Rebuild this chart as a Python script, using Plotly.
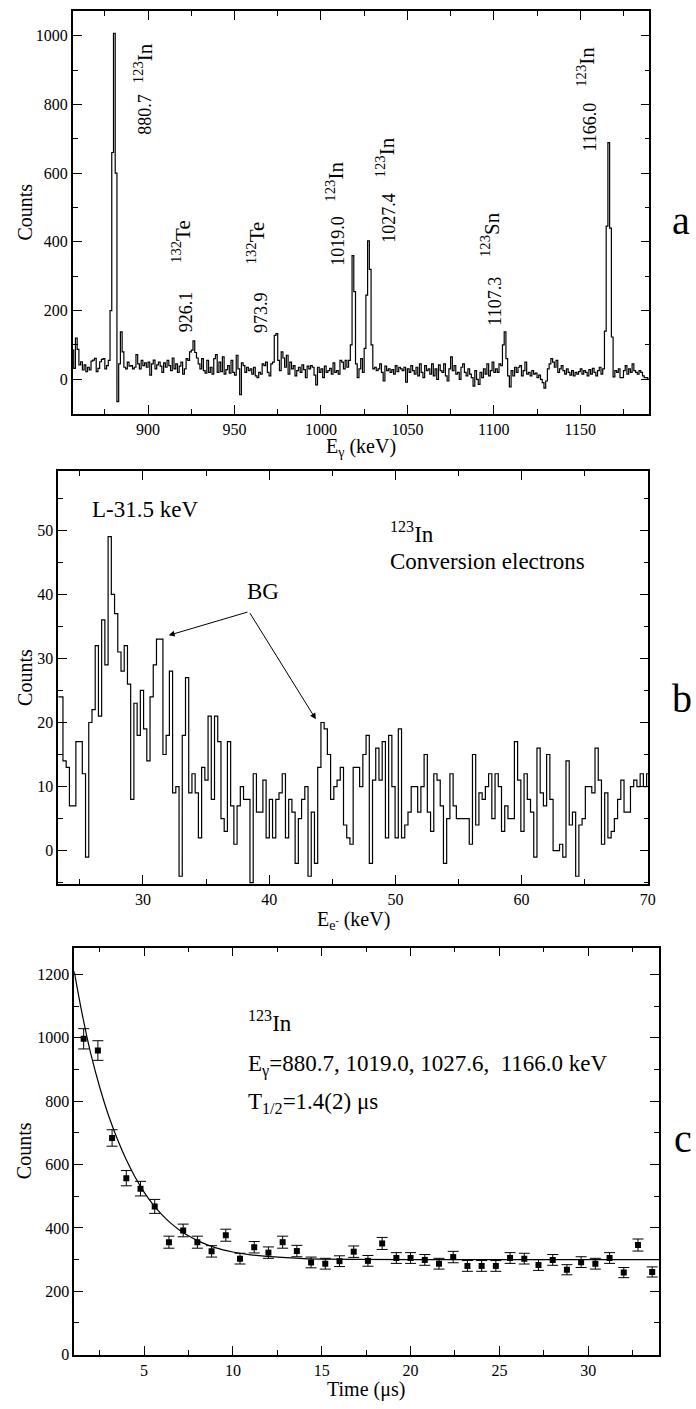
import numpy as np
import plotly.graph_objects as go

W, H = 696, 1409
FONT = "Liberation Serif, Times New Roman, Times, serif"

# ---------------- Panel a: gamma spectrum, 1 keV channels from 856 keV ----------------
e_start_a = 856
counts_a = [
    # 856-877
    85, 32, 120, 87, 42, 51, 27, 42, 22, 35, 27, 53, 56, 61, 22, 32, 51, 58, 60, 30, 40, 55,
    # 878-887
    200, 660, 1007, 600, -65, 45, 138, 80, 35, 30,
    # 888-925
    50, 38, 40, 30, 35, 72, 45, 30, 55, 40, 48, 35, 50, 12, 45, 56, 30, 42, 50, 38,
    20, 48, 35, 55, 40, 25, 62, 30, 45, 20, 38, 50, 15, 30, 60, 55, 80, 85,
    # 926-968
    112, 78, 62, 45, 30, 60, 25, 18, 55, 20, 35, 15, 60, 72, 20, 50, 22, 65, 15, 28,
    40, 18, 55, 20, 12, 70, 30, -45, 48, 40, 20, 35, 25, 30, 15, 35, 10, 5, 20, 15,
    45, 40, 50,
    # 969-1014
    20, 10, 45, 50, 128, 133, 55, 25, 80, 62, 35, 70, 15, 50, 30, 40, 10, 25, 35, 20,
    42, 28, 5, 38, 30, 40, 35, 12, -16, 35, 20, 30, 5, 38, 20, 25, 32, 15, 48, 20,
    25, 15, 55, 50, 30, 55,
    # 1015-1030
    35, 55, 100, 360, 255, 45, 5, 30, 60, 20, 90, 245, 403, 320, 100, 30,
    # 1031-1100
    35, 25, 30, 45, 20, -5, 38, 25, 30, 20, 28, 15, 40, 22, 35, 30, 25, 35, -8, 30,
    20, 40, 25, 15, 35, 10, 45, 20, 5, 40, 25, 30, 15, 45, 10, 30, 0, 42, 25, 20,
    45, 10, -5, 30, 65, 25, 40, 15, 20, 0, 35, 45, 20, 10, 30, 15, 5, -20, 25, 0,
    -15, 20, 5, 30, 15, 45, 10, 25, 50, 20,
    # 1101-1112
    30, 20, 45, 40, 100, 138, 60, 10, -22, 25, 10, 35,
    # 1113-1163
    20, 35, 40, 10, 25, 50, 15, 20, 10, 25, 15, 18, 5, 12, 0, -10, -26, -5, 30, 45,
    60, 50, 35, 55, 20, 30, 40, 25, 15, 30, 20, 12, 25, 10, 20, 15, 22, 30, 15, 25,
    20, 10, 28, 15, 32, 20, 10, 25, 35, 15, 30,
    # 1164-1169
    140, 446, 689, 440, 123, 7,
    # 1170-1189
    25, 20, 30, 5, 5, 25, 40, 15, 30, 20, 45, 25, 20, 15, 25, 20, 10, 5, 5, 0,
]
peak_energies_a = ["880.7", "926.1", "973.9", "1019.0", "1027.4", "1107.3", "1166.0"]
peak_isotopes_a = ["<sup>123</sup>In", "<sup>132</sup>Te", "<sup>132</sup>Te", "<sup>123</sup>In",
                   "<sup>123</sup>In", "<sup>123</sup>Sn", "<sup>123</sup>In"]
# label placement (keV, counts) for energy text and isotope text
peak_num_pos = [(898.5, 771), (921.7, 197), (965.0, 194), (1009.9, 403), (1039.4, 470), (1100.7, 226), (1155.7, 733)]
peak_iso_pos = [(897.5, 919), (919.7, 400), (962.7, 397), (1007.9, 574), (1037.1, 646), (1098.4, 420), (1153.4, 910)]

# ---------------- Panel b: conversion electron spectrum ----------------
e_start_b = 23.15
bin_w_b = 0.2555
counts_b = [
    24, 24, 14, 13, 7, 7, 17, 17, 12, -1, 20, 22, 32, 21, 36, 29, 49, 40, 37, 31,
    28, 32, 26, 8, 23, 18, 25, 19, 14, 24, 29, 33, 33, 15, 18, 28, 9, 10, -4, 18,
    27, 9, 12, 9, 2, 13, 11, 21, 8, 21, 17, 5, 3, 17, 7, 1, 7, 10, 8, 8, -5, 12,
    6, 6, 11, 2, 8, 2, 8, 9, 12, 2, 8, 6, -2, 5, 8, 10, -4, 6, -2, 13,
    20, 19, 15, 8, 10, 11, 13, 4, 2, 1, 13, 13, 10, 15, 18, -2, 11, 16, 11, 17,
    2, 18, 10, 2, 19, 2, 4, 6, 10, 10, 6, 10, 15, 6, 3, 12, 11, 7, -2, 5, 12, 7, 5,
    5, 5, 5, 1, 15, 4, 9, 8, 10, 12, 5, 12, 10, 3, 7, 5, 5, 17, 11, 3,
    12, 8, 6, -1, 16, 9, 7, 15, 8, 0, 0, 1, -1, 14, 4, 6, -4, 4, 5, 10,
    10, 9, 16, 11, 1, 9, 2, 3, 5, 8, 11, 6, 6, 10, 11, 10, 12, 10, 12,
]

# ---------------- Panel c: time distribution ----------------
time_c = [1.6, 2.4, 3.2, 4.0, 4.8, 5.6, 6.4, 7.2, 8.0, 8.8, 9.6, 10.4, 11.2, 12.0, 12.8,
          13.6, 14.4, 15.2, 16.0, 16.8, 17.6, 18.4, 19.2, 20.0, 20.8, 21.6, 22.4, 23.2,
          24.0, 24.8, 25.6, 26.4, 27.2, 28.0, 28.8, 29.6, 30.4, 31.2, 32.0, 32.8, 33.6]
counts_c = [997, 960, 684, 557, 524, 468, 355, 392, 355, 326, 377, 303, 339, 322, 355,
            327, 291, 287, 295, 325, 296, 351, 305, 305, 299, 287, 308, 280, 280, 280,
            305, 303, 283, 299, 268, 292, 287, 305, 259, 346, 261]
errors_c = [32, 31, 26, 24, 23, 22, 19, 20, 19, 18, 19, 17, 18, 18, 19, 18, 17, 17, 17, 18,
            17, 19, 17, 17, 17, 17, 18, 17, 17, 17, 17, 17, 17, 17, 16, 17, 17, 17, 16, 19, 16]
fit_t = [1.07, 1.5, 2.0, 2.5, 3.0, 3.5, 4.0, 4.5, 5.0, 5.5, 6.0, 6.5, 7.0, 7.5, 8.0, 9.0,
         10.0, 11.0, 12.0, 13.0, 14.0, 15.0, 17.0, 20.0, 25.0, 34.0]
fit_y = [1210, 1080, 950, 845, 755, 680, 615, 560, 513, 474, 442, 415, 393, 375, 360, 338,
         324, 315, 310, 306, 303, 301.5, 300.5, 300, 300, 300]

# ---------------- figure ----------------
fig = go.Figure()

edges_a = e_start_a + np.arange(len(counts_a) + 1)
fig.add_trace(go.Scatter(x=edges_a, y=counts_a + [counts_a[-1]], mode="lines",
                         line=dict(shape="hv", color="black", width=1.2),
                         xaxis="x", yaxis="y", showlegend=False, hoverinfo="skip"))

edges_b = e_start_b + bin_w_b * np.arange(len(counts_b) + 1)
fig.add_trace(go.Scatter(x=edges_b, y=counts_b + [counts_b[-1]], mode="lines",
                         line=dict(shape="hv", color="black", width=1.2),
                         xaxis="x2", yaxis="y2", showlegend=False, hoverinfo="skip"))

fig.add_trace(go.Scatter(x=fit_t, y=fit_y, mode="lines", line=dict(color="black", width=1.2, shape="spline"),
                         xaxis="x3", yaxis="y3", showlegend=False, hoverinfo="skip"))
fig.add_trace(go.Scatter(x=time_c, y=counts_c, mode="markers",
                         marker=dict(symbol="square", size=6, color="black"),
                         error_y=dict(type="data", array=errors_c, color="black", thickness=1, width=5.5),
                         xaxis="x3", yaxis="y3", showlegend=False, hoverinfo="skip"))


def px(x):
    return x / W


def py(y):
    return 1 - y / H


def axis(rng, dtick, mdtick, domain, anchor, labels=True):
    return dict(range=rng, domain=domain, anchor=anchor, showline=True, linecolor="black",
                linewidth=1.8, mirror="ticks", ticks="inside", ticklen=9, tickwidth=1,
                tickcolor="black", tick0=0, dtick=dtick, showgrid=False, zeroline=False,
                showticklabels=labels,
                minor=dict(dtick=mdtick, tick0=0, ticks="inside", ticklen=5, tickwidth=1,
                           tickcolor="black", showgrid=False),
                tickfont=dict(family=FONT, size=16, color="black"))


fig.update_layout(
    width=W, height=H, margin=dict(l=0, r=0, t=0, b=0),
    paper_bgcolor="white", plot_bgcolor="white",
    font=dict(family=FONT, color="black"),
    xaxis=axis([856.5, 1190], 50, 25, [px(73.6), px(656)], "y"),
    yaxis=axis([-100, 1072], 200, 100, [py(416), py(11)], "x"),
    xaxis2=axis([23.3, 70.05], 10, 5, [px(59), px(655)], "y2"),
    yaxis2=axis([-5.2, 59.2], 10, 5, [py(889), py(474)], "x2"),
    xaxis3=axis([1.07, 34.0], 5, 2.5, [px(75), px(666)], "y3"),
    yaxis3=axis([-2, 1285], 200, 100, [py(1363), py(953)], "x3"),
)

ann = []


def txt(text, x, y, size, xref="paper", yref="paper", angle=0, xanchor="center", yanchor="middle"):
    ann.append(dict(text=text, x=x, y=y, xref=xref, yref=yref, textangle=angle, showarrow=False,
                    xanchor=xanchor, yanchor=yanchor,
                    font=dict(family=FONT, size=size, color="black")))


# panel a labels
for lab, (ex, ey) in zip(peak_energies_a, peak_num_pos):
    txt(lab, ex, ey, 18, "x", "y", angle=-90)
for lab, (ex, ey) in zip(peak_isotopes_a, peak_iso_pos):
    txt(lab, ex, ey, 21, "x", "y", angle=-90)

# axis titles
txt("Counts", px(25), py(213), 20, angle=-90)
txt("E<sub>γ</sub> (keV)", px(365), py(450), 20)
txt("Counts", px(25), py(681), 20, angle=-90)
txt("E<sub>e<sup>-</sup></sub> (keV)", px(357), py(926), 20)
txt("Counts", px(25), py(1157), 20, angle=-90)
txt("Time (μs)", px(370), py(1397), 20)

# panel letters
txt("a", px(688), py(222), 40)
txt("b", px(689), py(702), 40)
txt("c", px(690), py(1145), 40)

# panel b texts
txt("L-31.5 keV", 25.8, 53.3, 23, "x2", "y2", xanchor="left")
txt("<sup>123</sup>In", 49.4, 49.7, 23, "x2", "y2", xanchor="left")
txt("Conversion electrons", 49.4, 45.1, 23, "x2", "y2", xanchor="left")
txt("BG", 39.5, 40.4, 23, "x2", "y2")

for hx, hy in [(32.04, 33.6), (43.7, 20.5)]:
    ann.append(dict(x=hx, y=hy, ax=38.4, ay=37.3, xref="x2", yref="y2", axref="x2", ayref="y2",
                    showarrow=True, arrowhead=2, arrowsize=1.2, arrowwidth=1, arrowcolor="black", text=""))

# panel c texts
txt("<sup>123</sup>In", 10.71, 1053, 23, "x3", "y3", xanchor="left")
txt("E<sub>γ</sub>=880.7, 1019.0, 1027.6,  1166.0 keV", 10.71, 912, 23, "x3", "y3", xanchor="left")
txt("T<sub>1/2</sub>=1.4(2) μs", 10.71, 795, 23, "x3", "y3", xanchor="left")

fig.update_layout(annotations=ann)
fig.write_html("out.html")
